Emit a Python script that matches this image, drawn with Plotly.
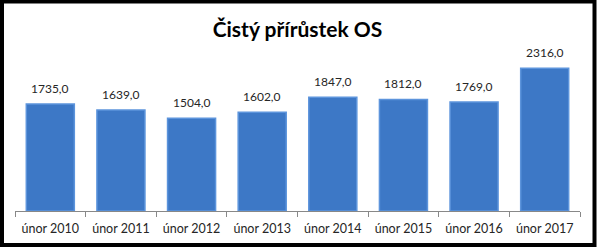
import plotly.graph_objects as go

categories = ["únor 2010", "únor 2011", "únor 2012", "únor 2013",
              "únor 2014", "únor 2015", "únor 2016", "únor 2017"]
values = [1735.0, 1639.0, 1504.0, 1602.0, 1847.0, 1812.0, 1769.0, 2316.0]
title_text = "Čistý přírůstek OS"

labels = [f"{v:.1f}".replace(".", ",") for v in values]

W, H = 597, 247
ml, mr, mt, mb = 15, 17, 57, 36
pw, ph = W - ml - mr, H - mt - mb

fig = go.Figure()
fig.add_trace(go.Bar(
    x=categories, y=values,
    marker=dict(color="#3D78C6", line=dict(color="#5C94DC", width=1.5)),
    hoverinfo="skip",
))

for c, v, t in zip(categories, values, labels):
    fig.add_annotation(x=c, y=v, text=t, showarrow=False, yanchor="bottom",
                       yshift=6, font=dict(family="Lato", size=12, color="#262626"))

def px_to_paper_x(p):
    return (p - ml) / pw

def px_to_paper_y(p):
    return (H - mb - p) / ph

fig.add_shape(type="rect", xref="paper", yref="paper",
              x0=px_to_paper_x(2), x1=px_to_paper_x(594.5),
              y0=px_to_paper_y(245), y1=px_to_paper_y(1.5),
              line=dict(color="black", width=4), fillcolor="rgba(0,0,0,0)",
              layer="above")

fig.update_layout(
    width=W, height=H,
    margin=dict(l=ml, r=mr, t=mt, b=mb),
    paper_bgcolor="white", plot_bgcolor="white",
    bargap=0.32, showlegend=False,
    title=dict(text=title_text, x=0.5, xref="paper", xanchor="center",
               y=(H - 30) / H, yanchor="middle",
               font=dict(family="Lato", size=21, color="black", weight="bold")),
    xaxis=dict(showline=True, linecolor="#888888", linewidth=1,
               ticks="outside", tickson="boundaries", ticklen=5,
               ticklabelstandoff=6, automargin=False,
               tickcolor="#888888", tickfont=dict(family="Lato", size=12.5, color="#262626"),
               showgrid=False, fixedrange=True),
    yaxis=dict(range=[0, 2500], visible=False, showgrid=False, fixedrange=True,
               automargin=False),
)

fig.write_html("out.html")
